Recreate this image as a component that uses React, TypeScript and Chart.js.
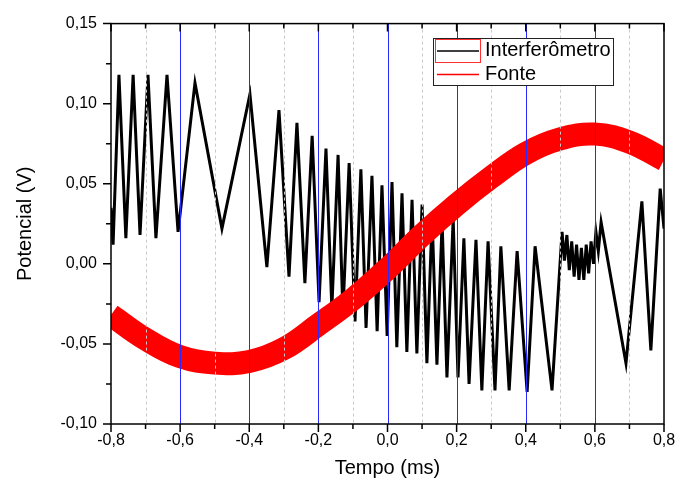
import React, { useEffect, useRef } from 'react';
import { Chart, registerables } from 'chart.js';

Chart.register(...registerables);

const FONT = '"Liberation Sans", Arial, sans-serif';

// Interferômetro (black) – peaks/troughs
const interfX = [
  -0.8, -0.794, -0.777, -0.757, -0.736, -0.716, -0.693, -0.67, -0.638, -0.606,
  -0.557, -0.479, -0.398, -0.349, -0.314, -0.285, -0.262, -0.239, -0.218, -0.198,
  -0.178, -0.161, -0.143, -0.129, -0.111, -0.094, -0.077, -0.062, -0.045, -0.03,
  -0.016, -0.001, 0.013, 0.027, 0.042, 0.056, 0.071, 0.085, 0.1, 0.114,
  0.129, 0.143, 0.158, 0.172, 0.19, 0.204, 0.221, 0.236, 0.256, 0.273,
  0.291, 0.311, 0.328, 0.352, 0.375, 0.404, 0.427, 0.476, 0.505, 0.512,
  0.519, 0.526, 0.533, 0.54, 0.547, 0.554, 0.561, 0.568, 0.575, 0.582,
  0.589, 0.596, 0.603, 0.61, 0.618, 0.69, 0.736, 0.762, 0.789, 0.8,
];
const interfY = [
  0.035, 0.012, 0.118, 0.016, 0.118, 0.018, 0.118, 0.016, 0.118, 0.02,
  0.113, 0.022, 0.106, -0.002, 0.096, -0.008, 0.088, -0.012, 0.08, -0.024,
  0.072, -0.028, 0.068, -0.031, 0.063, -0.036, 0.059, -0.04, 0.055, -0.042,
  0.049, -0.045, 0.051, -0.052, 0.044, -0.055, 0.04, -0.056, 0.037, -0.062,
  0.029, -0.063, 0.026, -0.071, 0.028, -0.071, 0.016, -0.075, 0.015, -0.079,
  0.014, -0.079, 0.011, -0.079, 0.008, -0.08, 0.011, -0.079, 0.02, 0.002,
  0.018, -0.004, 0.014, -0.008, 0.012, -0.01, 0.01, -0.01, 0.012, -0.006,
  0.014, 0.0, 0.02, 0.008, 0.026, -0.062, 0.039, -0.054, 0.047, 0.022,
];

// Fonte (red)
const fonteX = [-0.8, -0.7, -0.6, -0.5, -0.4, -0.3, -0.2, -0.1, 0.0, 0.1, 0.2, 0.3, 0.4, 0.5, 0.6, 0.7, 0.8];
const fonteY = [-0.032, -0.047, -0.058, -0.062, -0.061, -0.053, -0.038, -0.022, -0.003, 0.018, 0.037, 0.054, 0.069, 0.078, 0.081, 0.076, 0.065];

// axis ticks
const xMajorTicks = [-0.8, -0.6, -0.4, -0.2, 0, 0.2, 0.4, 0.6, 0.8];
const xMinorTicks = [-0.7, -0.5, -0.3, -0.1, 0.1, 0.3, 0.5, 0.7];
const yMajorTicks = [-0.1, -0.05, 0, 0.05, 0.1, 0.15];
const yMinorTicks = [-0.075, -0.025, 0.025, 0.075, 0.125];

const seriesLabels = ['Interferômetro', 'Fonte'];

const fmt = (v: number, d: number) => {
  const s = (Math.abs(v) < 1e-9 ? 0 : v).toFixed(d);
  return s.replace('.', ',');
};

const decorPlugin = {
  id: 'decor',
  afterDatasetsDraw(chart: any) {
    const { ctx, chartArea: a, scales } = chart;
    const x = scales.x;
    ctx.save();
    ctx.strokeStyle = '#c8c8c8';
    ctx.lineWidth = 1;
    ctx.setLineDash([3, 3]);
    for (const v of xMinorTicks) {
      const px = Math.round(x.getPixelForValue(v)) + 0.5;
      ctx.beginPath();
      ctx.moveTo(px, a.top);
      ctx.lineTo(px, a.bottom);
      ctx.stroke();
    }
    ctx.setLineDash([]);
    for (const v of xMajorTicks) {
      if (Math.abs(v) > 0.79) continue;
      const px = Math.round(x.getPixelForValue(v)) + 0.5;
      ctx.strokeStyle = '#2828ff';
      ctx.lineWidth = 1;
      ctx.beginPath();
      ctx.moveTo(px, a.top);
      ctx.lineTo(px, a.bottom);
      ctx.stroke();
    }
    ctx.restore();
  },
  afterDraw(chart: any) {
    const { ctx, chartArea: a, scales } = chart;
    const x = scales.x;
    const y = scales.y;
    ctx.save();
    ctx.strokeStyle = '#000';
    ctx.lineWidth = 1.5;
    ctx.strokeRect(a.left, a.top, a.right - a.left, a.bottom - a.top);
    ctx.beginPath();
    for (const v of xMajorTicks) {
      const px = x.getPixelForValue(v);
      ctx.moveTo(px, a.bottom);
      ctx.lineTo(px, a.bottom + 8);
      ctx.moveTo(px, a.top);
      ctx.lineTo(px, a.top + 8);
    }
    for (const v of xMinorTicks) {
      const px = x.getPixelForValue(v);
      ctx.moveTo(px, a.bottom);
      ctx.lineTo(px, a.bottom + 5);
      ctx.moveTo(px, a.top);
      ctx.lineTo(px, a.top + 5);
    }
    for (const v of yMajorTicks) {
      const py = y.getPixelForValue(v);
      ctx.moveTo(a.left, py);
      ctx.lineTo(a.left - 8, py);
    }
    for (const v of yMinorTicks) {
      const py = y.getPixelForValue(v);
      ctx.moveTo(a.left, py);
      ctx.lineTo(a.left - 5, py);
    }
    ctx.stroke();

    // legend
    const lx = 433.5;
    const ly = 38.5;
    const lw = 180;
    const lh = 47;
    ctx.fillStyle = '#fff';
    ctx.fillRect(lx, ly, lw, lh);
    ctx.strokeStyle = '#222';
    ctx.lineWidth = 1;
    ctx.strokeRect(lx, ly, lw, lh);
    ctx.strokeStyle = '#ff3030';
    ctx.strokeRect(435.5, 39.5, 45, 23);
    ctx.lineWidth = 1.5;
    ctx.strokeStyle = '#000';
    ctx.beginPath();
    ctx.moveTo(437, 51);
    ctx.lineTo(479, 51);
    ctx.stroke();
    ctx.strokeStyle = '#ff0000';
    ctx.beginPath();
    ctx.moveTo(437, 74.5);
    ctx.lineTo(479, 74.5);
    ctx.stroke();
    ctx.fillStyle = '#000';
    ctx.font = `20px ${FONT}`;
    ctx.textBaseline = 'middle';
    ctx.textAlign = 'left';
    ctx.fillText(seriesLabels[0], 485, 50);
    ctx.fillText(seriesLabels[1], 485, 74);
    ctx.restore();
  },
};

export default function App() {
  const ref = useRef<HTMLCanvasElement | null>(null);
  useEffect(() => {
    if (!ref.current) return;
    const chart = new Chart(ref.current, {
      type: 'line',
      data: {
        datasets: [
          {
            label: seriesLabels[1],
            data: fonteX.map((v, i) => ({ x: v, y: fonteY[i] })),
            borderColor: '#ff0000',
            borderWidth: 23,
            pointRadius: 0,
            tension: 0.4,
            borderCapStyle: 'butt',
          },
          {
            label: seriesLabels[0],
            data: interfX.map((v, i) => ({ x: v, y: interfY[i] })),
            borderColor: '#000',
            borderWidth: 3,
            pointRadius: 0,
            tension: 0,
            borderJoinStyle: 'miter',
          },
        ],
      },
      options: {
        animation: false,
        responsive: false,
        devicePixelRatio: 1,
        layout: { padding: { left: 0, right: 28, top: 18, bottom: 0 } },
        plugins: { legend: { display: false }, tooltip: { enabled: false } },
        scales: {
          x: {
            type: 'linear',
            min: -0.8,
            max: 0.8,
            afterBuildTicks: (s: any) => {
              s.ticks = xMajorTicks.map((v) => ({ value: v }));
            },
            afterFit: (s: any) => {
              s.height = 66;
            },
            grid: { display: false, drawTicks: false },
            border: { display: false },
            ticks: {
              color: '#000',
              font: { family: FONT, size: 16 },
              padding: 7,
              maxRotation: 0,
              autoSkip: false,
              callback: (v: any) => fmt(Number(v), 1),
            },
            title: {
              display: true,
              text: 'Tempo (ms)',
              color: '#000',
              font: { family: FONT, size: 20 },
              padding: { top: 0, bottom: 10 },
            },
          },
          y: {
            type: 'linear',
            min: -0.1,
            max: 0.15,
            afterBuildTicks: (s: any) => {
              s.ticks = yMajorTicks.map((v) => ({ value: v }));
            },
            afterFit: (s: any) => {
              s.width = 111;
            },
            grid: { display: false, drawTicks: false },
            border: { display: false },
            ticks: {
              color: '#000',
              font: { family: FONT, size: 16 },
              padding: 14,
              autoSkip: false,
              callback: (v: any) => fmt(Number(v), 2),
            },
            title: {
              display: true,
              text: 'Potencial (V)',
              color: '#000',
              font: { family: FONT, size: 20 },
              padding: { top: 13, bottom: 0 },
            },
          },
        },
      },
      plugins: [decorPlugin],
    });
    return () => chart.destroy();
  }, []);
  return (
    <div style={{ position: 'fixed', left: 0, top: 0, width: 692, height: 490, background: '#fff' }}>
      <canvas ref={ref} width={692} height={490} style={{ width: 692, height: 490 }} />
    </div>
  );
}
